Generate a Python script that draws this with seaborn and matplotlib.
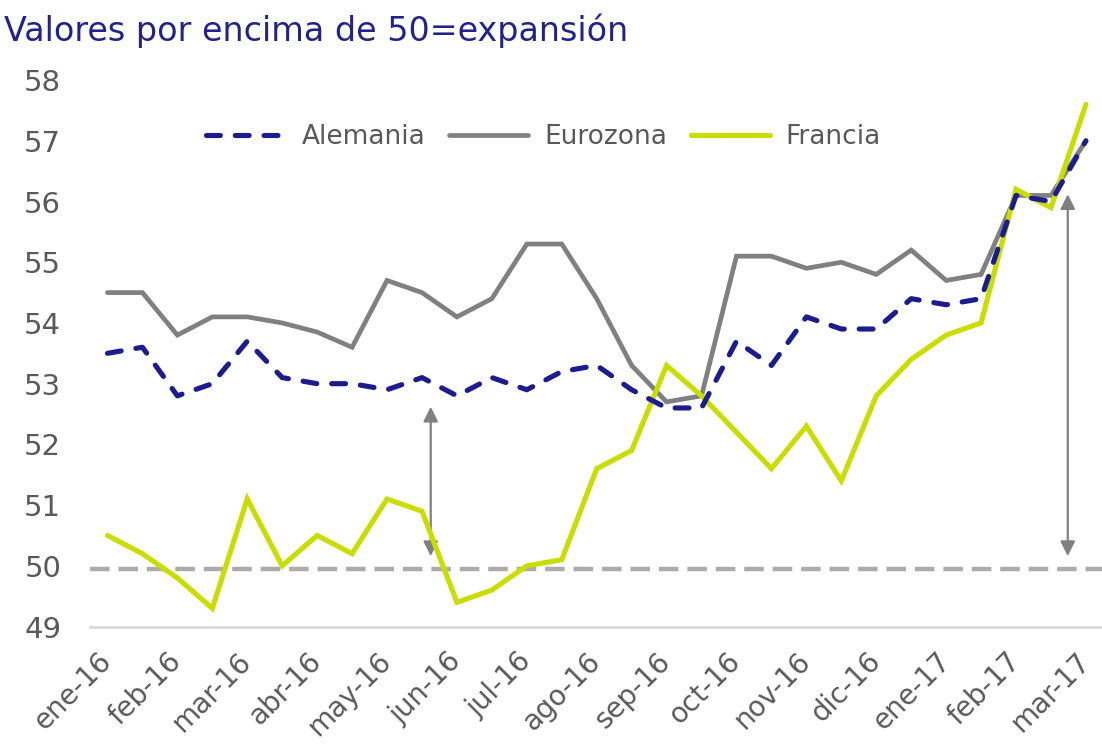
import matplotlib
matplotlib.use("Agg")
import matplotlib.pyplot as plt
import seaborn as sns
import numpy as np
import pandas as pd

# ---- data ----
months = ["ene-16", "feb-16", "mar-16", "abr-16", "may-16", "jun-16", "jul-16",
          "ago-16", "sep-16", "oct-16", "nov-16", "dic-16", "ene-17", "feb-17", "mar-17"]
alemania = [53.5, 53.6, 52.8, 53.0, 53.7, 53.1, 53.0, 53.0, 52.9, 53.1, 52.8, 53.1, 52.9, 53.2,
            53.3, 52.9, 52.6, 52.6, 53.7, 53.3, 54.1, 53.9, 53.9, 54.4, 54.3, 54.4, 56.1, 56.0, 57.0]
eurozona = [54.5, 54.5, 53.8, 54.1, 54.1, 54.0, 53.85, 53.6, 54.7, 54.5, 54.1, 54.4, 55.3, 55.3,
            54.4, 53.3, 52.7, 52.8, 55.1, 55.1, 54.9, 55.0, 54.8, 55.2, 54.7, 54.8, 56.1, 56.1, 57.0]
francia = [50.5, 50.2, 49.8, 49.3, 51.1, 50.0, 50.5, 50.2, 51.1, 50.9, 49.4, 49.6, 50.0, 50.1,
           51.6, 51.9, 53.3, 52.8, 52.2, 51.6, 52.3, 51.4, 52.8, 53.4, 53.8, 54.0, 56.2, 55.9, 57.6]
umbral = 49.94
# arrows (x index, y from, y to)
flecha1 = (9.25, 52.62, 50.16)
flecha2 = (27.48, 56.12, 50.16)

idx = np.arange(len(alemania))
df = pd.DataFrame({"i": idx, "Alemania": alemania, "Eurozona": eurozona, "Francia": francia})

sns.set_style("white")
plt.rcParams["font.family"] = ["DejaVu Sans"]

fig = plt.figure(figsize=(11.02, 7.45), dpi=100)
ax = fig.add_axes([0.082, 0.159, 0.918, 0.7335])

txt = "#595959"
c_ale = "#1C1C8E"
c_eur = "#808080"
c_fra = "#C9DD00"

# threshold line
ax.axhline(umbral, color="#AEAAAA", lw=3.2, dashes=(4.4, 2.0), zorder=1)

sns.lineplot(data=df, x="i", y="Eurozona", ax=ax, color=c_eur, lw=3.4, label="Eurozona", zorder=3)
sns.lineplot(data=df, x="i", y="Francia", ax=ax, color=c_fra, lw=3.7, label="Francia", zorder=4)
sns.lineplot(data=df, x="i", y="Alemania", ax=ax, color=c_ale, lw=3.7, label="Alemania", zorder=5)
for ln in ax.lines:
    if ln.get_label() == "Alemania":
        ln.set_dashes((2.7, 2.9))
        ln.set_dash_capstyle("round")
    ln.set_solid_capstyle("round")
    ln.set_solid_joinstyle("miter")

# arrows
for (xa, y0, y1) in (flecha1, flecha2):
    ax.annotate("", xy=(xa, y1), xytext=(xa, y0),
                arrowprops=dict(arrowstyle="<|-|>", color="#808080", lw=1.6,
                                mutation_scale=22, shrinkA=0, shrinkB=0), zorder=2)

ax.set_xlim(-0.49, 28.46)
ax.set_ylim(49, 58)
ax.set_yticks(range(49, 59))
ax.set_yticklabels([str(v) for v in range(49, 59)], fontsize=21, color=txt)
ax.set_xticks(idx[::2])
ax.set_xticklabels(months, fontsize=20, color=txt, rotation=45, ha="right",
                   va="center", rotation_mode="anchor")
ax.tick_params(axis="both", length=0)
ax.tick_params(axis="y", pad=21)
ax.tick_params(axis="x", pad=22)
ax.set_xlabel("")
ax.set_ylabel("")
for s in ["top", "right", "left"]:
    ax.spines[s].set_visible(False)
ax.spines["bottom"].set_color("#D9D9D9")
ax.spines["bottom"].set_linewidth(2)

h, l = ax.get_legend_handles_labels()
order = [l.index("Alemania"), l.index("Eurozona"), l.index("Francia")]
leg = ax.legend([h[k] for k in order], [l[k] for k in order], loc="center",
                bbox_to_anchor=(0.448, 0.895), ncol=3, frameon=False, fontsize=19,
                handlelength=3.0, handletextpad=0.6, columnspacing=0.9)
for t in leg.get_texts():
    t.set_color(txt)

fig.text(0.004, 0.982, "Valores por encima de 50=expansión", fontsize=24,
         color="#22228C", ha="left", va="top")

fig.savefig("out.png", dpi=100, facecolor="white")
